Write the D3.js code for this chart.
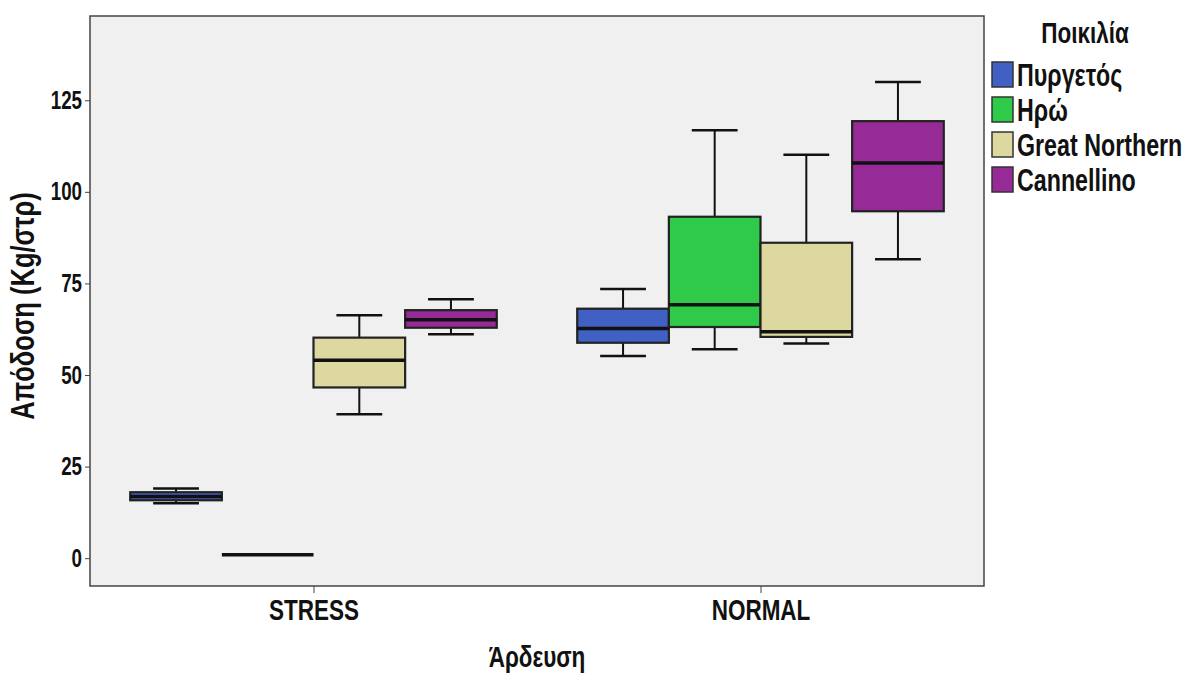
<!DOCTYPE html>
<html>
<head>
<meta charset="utf-8">
<script src="https://cdn.jsdelivr.net/npm/d3@7"></script>
<style>
  html, body { margin: 0; padding: 0; background: #ffffff; }
  svg { display: block; }
  text { font-family: "Liberation Sans", Arial, sans-serif; font-weight: bold; fill: #111; }
</style>
</head>
<body>
<svg id="chart" width="1189" height="675"></svg>
<script>
// Irrigation groups on the x axis and bean varieties within each group
const irrigation = ["STRESS", "NORMAL"];
const varieties = ["Πυργετός", "Ηρώ", "Great Northern", "Cannellino"];
const colors = ["#4060c4", "#2fca4a", "#dcd8a0", "#962a96"];

// Box statistics, one row per irrigation group, one entry per variety
const whiskerLow  = [[15.0, 0.9, 39.3, 61.1], [55.2, 57.0, 58.6, 81.6]];
const quartile1   = [[15.8, 0.9, 46.6, 62.9], [58.8, 63.1, 60.4, 94.7]];
const medians     = [[16.8, 0.9, 54.0, 65.1], [62.7, 69.2, 61.8, 107.9]];
const quartile3   = [[18.0, 0.9, 60.2, 67.7], [68.1, 93.2, 86.1, 119.3]];
const whiskerHigh = [[19.0, 0.9, 66.3, 70.7], [73.5, 116.8, 110.1, 130.0]];

const yTicks = [0, 25, 50, 75, 100, 125];

// all lettering is drawn tall and condensed
const SQUEEZE = 0.75;

const svg = d3.select("#chart");
const plot = { left: 90, right: 984, top: 16, bottom: 586 };

const x = d3.scalePoint().domain(irrigation).range([plot.left, plot.right]).padding(0.5);
const xInner = d3.scaleBand().domain(varieties).range([-x.step() * 0.41, x.step() * 0.41]);
const y = d3.scaleLinear().domain([-7.6, 148]).range([plot.bottom, plot.top]);

// plot background and frame
svg.append("rect")
  .attr("x", plot.left).attr("y", plot.top)
  .attr("width", plot.right - plot.left).attr("height", plot.bottom - plot.top)
  .attr("fill", "#f0f0f0").attr("stroke", "#444").attr("stroke-width", 1.5);

// axes
const yAxis = d3.axisLeft(y).tickValues(yTicks).tickSize(5).tickPadding(0);
const gy = svg.append("g").attr("transform", `translate(${plot.left},0)`).call(yAxis);
gy.select(".domain").remove();
gy.selectAll(".tick line").attr("stroke", "#444");
gy.selectAll(".tick text")
  .attr("x", -8 / SQUEEZE)
  .attr("transform", `scale(${SQUEEZE},1)`)
  .style("font-size", "25px").attr("fill", "#111");

const xAxis = d3.axisBottom(x).tickSize(7).tickPadding(6);
const gx = svg.append("g").attr("transform", `translate(0,${plot.bottom})`).call(xAxis);
gx.select(".domain").remove();
gx.selectAll(".tick line").attr("stroke", "#444");
gx.selectAll(".tick text")
  .attr("transform", `scale(${SQUEEZE},1)`)
  .style("font-size", "30px").attr("fill", "#111");

// boxes
const cells = [];
irrigation.forEach((g, gi) => {
  varieties.forEach((v, vi) => {
    cells.push({ g, v, vi,
      lo: whiskerLow[gi][vi], q1: quartile1[gi][vi], med: medians[gi][vi],
      q3: quartile3[gi][vi], hi: whiskerHigh[gi][vi] });
  });
});

const bw = xInner.bandwidth();
const box = svg.append("g").selectAll("g").data(cells).join("g")
  .attr("transform", d => `translate(${x(d.g) + xInner(d.v)},0)`);

box.append("line")
  .attr("x1", bw / 2).attr("x2", bw / 2)
  .attr("y1", d => y(d.hi)).attr("y2", d => y(d.lo))
  .attr("stroke", "#111").attr("stroke-width", 2);

box.selectAll("line.cap").data(d => [d.lo, d.hi]).join("line")
  .attr("class", "cap")
  .attr("x1", bw / 4).attr("x2", bw * 3 / 4)
  .attr("y1", d => y(d)).attr("y2", d => y(d))
  .attr("stroke", "#111").attr("stroke-width", 2.5);

box.append("rect")
  .attr("x", 0).attr("width", bw)
  .attr("y", d => y(d.q3)).attr("height", d => y(d.q1) - y(d.q3))
  .attr("fill", d => colors[d.vi]).attr("stroke", "#222").attr("stroke-width", 2.2);

box.append("line")
  .attr("x1", 0).attr("x2", bw)
  .attr("y1", d => y(d.med)).attr("y2", d => y(d.med))
  .attr("stroke", "#111").attr("stroke-width", 3.5);

// condensed text helper
function label(px, py, str, size, anchor, rotate) {
  return svg.append("text")
    .attr("transform", `translate(${px},${py})` + (rotate ? ` rotate(${rotate})` : "") + ` scale(${SQUEEZE},1)`)
    .attr("text-anchor", anchor)
    .attr("dy", "0.35em")
    .style("font-size", size + "px")
    .text(str);
}

// axis titles
label(22, 306, "Απόδοση (Kg/στρ)", 34, "middle", -90);
label(537, 656, "Άρδευση", 30, "middle");

// legend
label(1085, 32, "Ποικιλία", 30, "middle");

const legend = svg.append("g").selectAll("g").data(varieties).join("g")
  .attr("transform", (d, i) => `translate(992,${62 + i * 35})`);
legend.append("rect")
  .attr("width", 21).attr("height", 25)
  .attr("fill", (d, i) => colors[i]).attr("stroke", "#333").attr("stroke-width", 1.5);
legend.append("text")
  .attr("transform", `translate(25,13) scale(${SQUEEZE},1)`)
  .attr("dy", "0.35em")
  .style("font-size", "31px")
  .text(d => d);
</script>
</body>
</html>
